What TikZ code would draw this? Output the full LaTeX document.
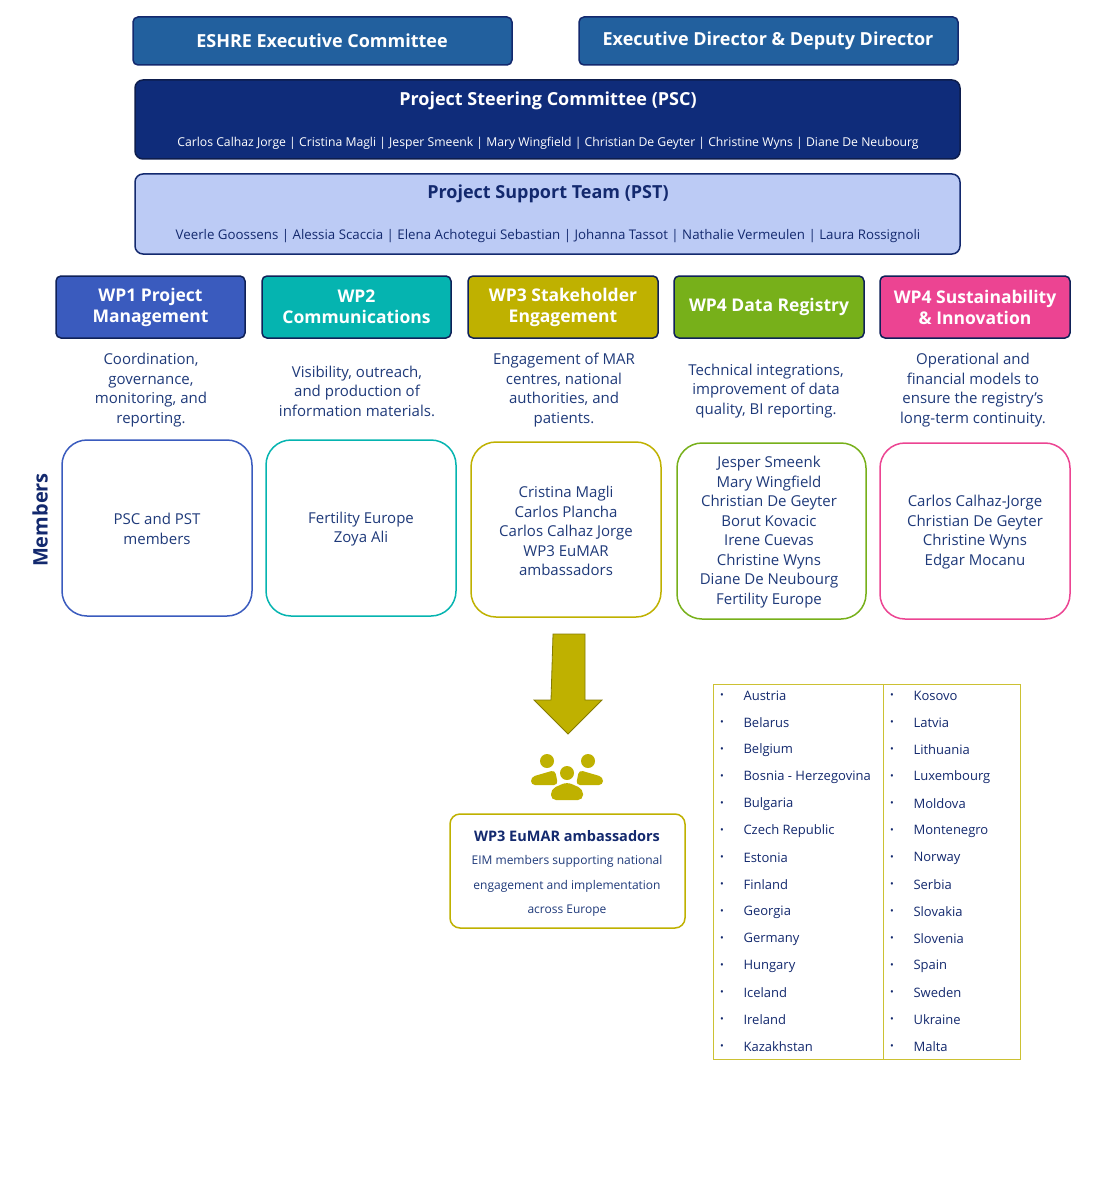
\documentclass[tikz,border=0pt]{standalone}
\usepackage{fontspec}
\setmainfont{Open Sans}
\definecolor{navy}{HTML}{13296E}
\definecolor{eshre}{HTML}{22609E}
\definecolor{psc}{HTML}{0F2C7A}
\definecolor{pst}{HTML}{BCCBF5}
\definecolor{wpa}{HTML}{3A5BBE}
\definecolor{wpb}{HTML}{05B4B0}
\definecolor{wpc}{HTML}{BFB100}
\definecolor{wpd}{HTML}{77B01A}
\definecolor{wpe}{HTML}{EC4492}
\definecolor{desc}{HTML}{1F3A7A}
\begin{document}
\begin{tikzpicture}[x=1pt,y=-1pt,
 topbox/.style={draw=navy,line width=1.5pt,rounded corners=5pt,fill=eshre,text=white,font=\bfseries\fontsize{18}{20}\selectfont},
 wpbox/.style={draw=navy!80!black,line width=1.5pt,rounded corners=5pt,text=white,font=\bfseries\fontsize{17.5}{21}\selectfont,align=center},
 desctxt/.style={text=desc,font=\fontsize{15}{19.5}\selectfont,align=center},
 membox/.style={line width=1.5pt,rounded corners=25pt,fill=white},
 memtxt/.style={text=desc,font=\fontsize{15}{19.5}\selectfont,align=center},
 ctry/.style={anchor=west,text=navy,font=\fontsize{13}{15}\selectfont},
 bul/.style={text=navy,font=\fontsize{10}{12}\selectfont}]
\useasboundingbox (0,0) rectangle (1118,1190);
\fill[white] (0,0) rectangle (1118,1190);
% top
\draw[topbox] (133,17) rectangle (512,65);
\node[text=white,font=\bfseries\fontsize{18}{20}\selectfont] (eshre) at (322,41) {ESHRE Executive Committee};
\draw[topbox] (579,17) rectangle (958,65);
\node[text=white,font=\bfseries\fontsize{18}{20}\selectfont] (exec) at (768,41) {Executive Director \& Deputy Director};
\draw[draw=navy!70!black,line width=1.5pt,rounded corners=8pt,fill=psc] (135,80) rectangle (960,159);
\node[text=white,font=\bfseries\fontsize{18}{20}\selectfont] (psc) at (548,101) {Project Steering Committee (PSC)};
\node[text=white,font=\fontsize{12.2}{14}\selectfont] (pscn) at (548,143) {Carlos Calhaz Jorge | Cristina Magli | Jesper Smeenk | Mary Wingfield | Christian De Geyter | Christine Wyns | Diane De Neubourg};
\draw[draw=navy,line width=1.5pt,rounded corners=8pt,fill=pst] (135,174) rectangle (960,254);
\node[text=navy,font=\bfseries\fontsize{18}{20}\selectfont] (pst) at (548,194) {Project Support Team (PST)};
\node[text=navy,font=\fontsize{13.3}{15}\selectfont] (pstn) at (548,236) {Veerle Goossens | Alessia Scaccia | Elena Achotegui Sebastian | Johanna Tassot | Nathalie Vermeulen | Laura Rossignoli};
% WPs
\foreach \xa/\xb/\c/\t/\n in {56/245/wpa/{WP1 Project\\Management}/w1,262/451/wpb/{WP2\\Communications}/w2,468/658/wpc/{WP3 Stakeholder\\Engagement}/w3,674/864/wpd/{WP4 Data Registry}/w4,880/1070/wpe/{WP4 Sustainability\\\& Innovation}/w5}{
 \draw[wpbox,fill=\c] (\xa,276) rectangle (\xb,338);
 \node[text=white,font=\bfseries\fontsize{17.5}{21}\selectfont,align=center] (\n) at ({(\xa+\xb)/2},307) {\t};
}
\node[desctxt] (d1) at (151,390) {Coordination,\\governance,\\monitoring, and\\reporting.};
\node[desctxt] (d2) at (357,391) {Visibility, outreach,\\and production of\\information materials.};
\node[desctxt] (d3) at (564,390) {Engagement of MAR\\centres, national\\authorities, and\\patients.};
\node[desctxt] (d4) at (766,391) {Technical integrations,\\improvement of data\\quality, BI reporting.};
\node[desctxt] (d5) at (973,390) {Operational and\\financial models to\\ensure the registry's\\long-term continuity.};
% members
\draw[membox,draw=wpa] (62,440) rectangle (252,616);
\node[memtxt] (m1) at (157,529) {PSC and PST\\members};
\draw[membox,draw=wpb] (266,440) rectangle (456,616);
\node[memtxt] (m2) at (361,529) {Fertility Europe\\Zoya Ali};
\draw[membox,draw=wpc] (471,442) rectangle (661,617);
\node[memtxt] (m3) at (566,531) {Cristina Magli\\Carlos Plancha\\Carlos Calhaz Jorge\\WP3 EuMAR\\ambassadors};
\draw[membox,draw=wpd] (677,443) rectangle (866,619);
\node[memtxt] (m4) at (769,532) {Jesper Smeenk\\Mary Wingfield\\Christian De Geyter\\Borut Kovacic\\Irene Cuevas\\Christine Wyns\\Diane De Neubourg\\Fertility Europe};
\draw[membox,draw=wpe] (880,443) rectangle (1070,619);
\node[memtxt] (m5) at (975,532) {Carlos Calhaz-Jorge\\Christian De Geyter\\Christine Wyns\\Edgar Mocanu};
\node[rotate=90,text=navy,font=\bfseries\fontsize{20}{22}\selectfont] (mem) at (40,520) {Members};
% arrow
\draw[fill=wpc,draw=wpc!70!black,line width=0.8pt] (553,634) -- (585,634) -- (585,700) -- (602,700) -- (568,734) -- (534,700) -- (551,700) -- cycle;
% people icon
\begin{scope}[fill=wpc]
\fill (547,761) circle (7);
\fill (588,761) circle (7);
\fill (567,773) circle (7);
\fill[rounded corners=4pt] (531,785) -- (531,777) -- (555,770) -- (558,785) -- cycle;
\fill[rounded corners=4pt] (603,785) -- (603,777) -- (579,770) -- (576,785) -- cycle;
\fill[rounded corners=5pt] (551,800) -- (551,789) -- (567,782) -- (583,789) -- (583,800) -- cycle;
\end{scope}
\coordinate (icon) at (567,775);
% EuMAR box
\draw[draw=wpc,line width=1.5pt,rounded corners=10pt,fill=white] (450,814) rectangle (685,928);
\node[text=navy,font=\bfseries\fontsize{14.5}{16}\selectfont] (eu) at (567,836) {WP3 EuMAR ambassadors};
\node[text=desc,font=\fontsize{12}{24.5}\selectfont,align=center] (eut) at (567,886) {EIM members supporting national\\engagement and implementation\\across Europe};
% table
\draw[draw=wpc!80,line width=0.8pt] (713,684) rectangle (1020,1059);
\draw[draw=wpc!80,line width=0.8pt] (883,684) -- (883,1059);
\foreach \i/\a/\b in {0/Austria/Kosovo,1/Belarus/Latvia,2/Belgium/Lithuania,3/Bosnia - Herzegovina/Luxembourg,4/Bulgaria/Moldova,5/Czech Republic/Montenegro,6/Estonia/Norway,7/Finland/Serbia,8/Georgia/Slovakia,9/Germany/Slovenia,10/Hungary/Spain,11/Iceland/Sweden,12/Ireland/Ukraine,13/Kazakhstan/Malta}{
 \node[bul] at (722,{696+27*\i}) {•};
 \node[ctry] at (740,{696+27*\i}) {\a};
 \node[bul] at (892,{696+27*\i}) {•};
 \node[ctry] at (910,{696+27*\i}) {\b};
}
\end{tikzpicture}
\end{document}
